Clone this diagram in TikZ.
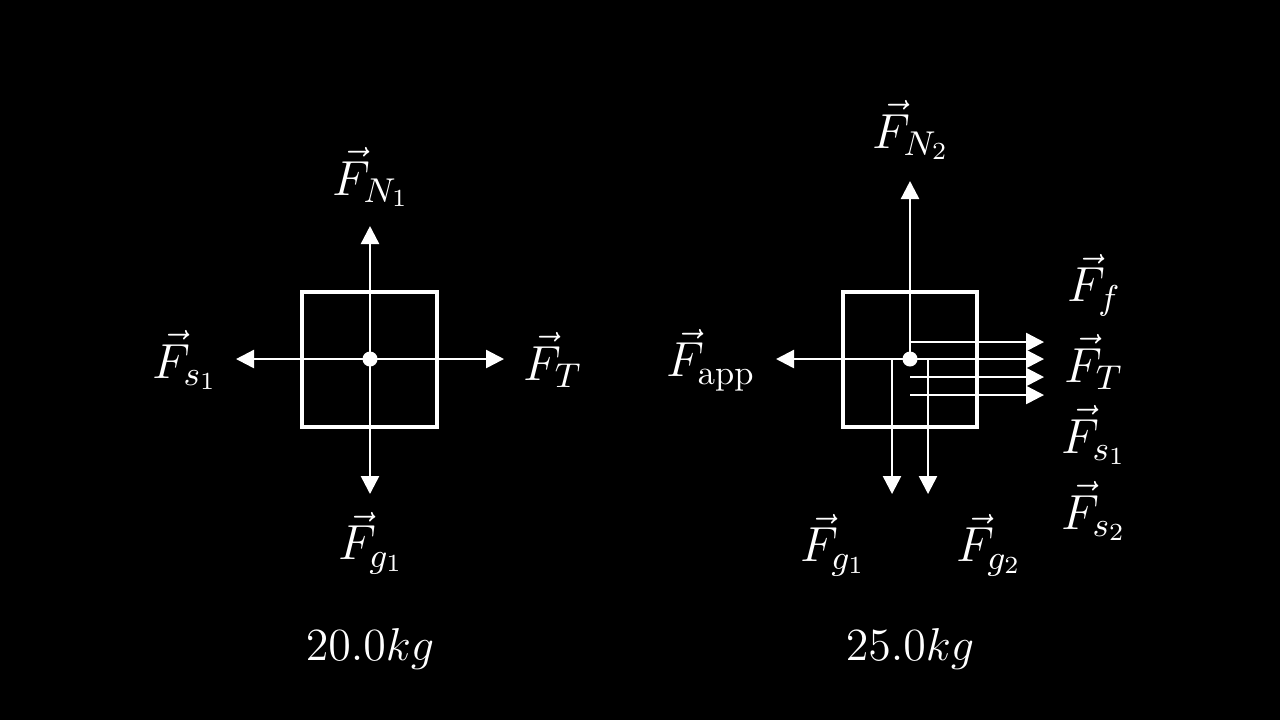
\RequirePackage{fix-cm}
\documentclass[tikz,border=0pt]{standalone}
\usepackage{amsmath}
\usepackage{amssymb}
\usepackage{tikz}
\usetikzlibrary{positioning, arrows.meta}

\begin{document}
\begin{tikzpicture}[
    x=0.01cm, y=-0.01cm,
    force/.style={-{Triangle[length=1.8mm, width=1.8mm]}, white, line width=0.7pt},
    block/.style={draw=white, line width=0.95pt},
    lbl/.style={text=white, font=\fontsize{14}{17}\selectfont, inner sep=0pt},
    mass/.style={text=white, font=\fontsize{13.1}{16}\selectfont, inner sep=0pt}
]

    % background
    \fill[black] (0, 0) rectangle (1280, 720);
    \useasboundingbox (0, 0) rectangle (1280, 720);

    % === Block 1 ===
    \coordinate (c1) at (370, 359);
    \coordinate (n1) at (370, 226);
    \coordinate (g1) at (370, 494);
    \coordinate (s1) at (236, 359);
    \coordinate (t1) at (504, 359);
    \draw[block] (302, 292) rectangle (437, 427);
    \draw[force] (c1) -- (n1);
    \draw[force] (c1) -- (g1);
    \draw[force] (c1) -- (s1);
    \draw[force] (c1) -- (t1);
    \fill[white] (c1) circle (7.5);

    \node[lbl] (labN1) at (371, 177) {$\vec{F}_{N_1}$};
    \node[lbl] (labG1) at (371, 543) {$\vec{F}_{g_1}$};
    \node[lbl] (labS1) at (185, 360) {$\vec{F}_{s_1}$};
    \node[lbl] (labT1) at (553, 360) {$\vec{F}_{T}$};
    \node[mass] (m1) at (370, 649) {$20.0kg$};

    % === Block 2 ===
    \coordinate (c2) at (910, 359);
    \coordinate (n2) at (910, 181);
    \coordinate (app) at (776, 359);
    \coordinate (f2a) at (910, 342);
    \coordinate (f2b) at (1044, 342);
    \coordinate (t2) at (1044, 359);
    \coordinate (s1a) at (910, 377);
    \coordinate (s1b) at (1044, 377);
    \coordinate (s2a) at (910, 395);
    \coordinate (s2b) at (1044, 395);
    \coordinate (g1a) at (892, 359);
    \coordinate (g1b) at (892, 494);
    \coordinate (g2a) at (928, 359);
    \coordinate (g2b) at (928, 494);
    \draw[block] (843, 292) rectangle (977, 427);
    \draw[force] (c2) -- (n2);
    \draw[force] (c2) -- (app);
    \draw[force] (f2a) -- (f2b);
    \draw[force] (c2) -- (t2);
    \draw[force] (s1a) -- (s1b);
    \draw[force] (s2a) -- (s2b);
    \draw[force] (g1a) -- (g1b);
    \draw[force] (g2a) -- (g2b);
    \fill[white] (c2) circle (7.5);

    \node[lbl] (labN2) at (911, 130) {$\vec{F}_{N_2}$};
    \node[lbl] (labApp) at (711, 360) {$\vec{F}_{\text{app}}$};
    \node[lbl] (labF2) at (1094, 285) {$\vec{F}_{f}$};
    \node[lbl] (labT2) at (1094, 362) {$\vec{F}_{T}$};
    \node[lbl] (labS12) at (1094, 435) {$\vec{F}_{s_1}$};
    \node[lbl] (labS22) at (1094, 511) {$\vec{F}_{s_2}$};
    \node[lbl] (labG12) at (833, 545) {$\vec{F}_{g_1}$};
    \node[lbl] (labG22) at (989, 545) {$\vec{F}_{g_2}$};
    \node[mass] (m2) at (910, 649) {$25.0kg$};

\end{tikzpicture}
\end{document}
